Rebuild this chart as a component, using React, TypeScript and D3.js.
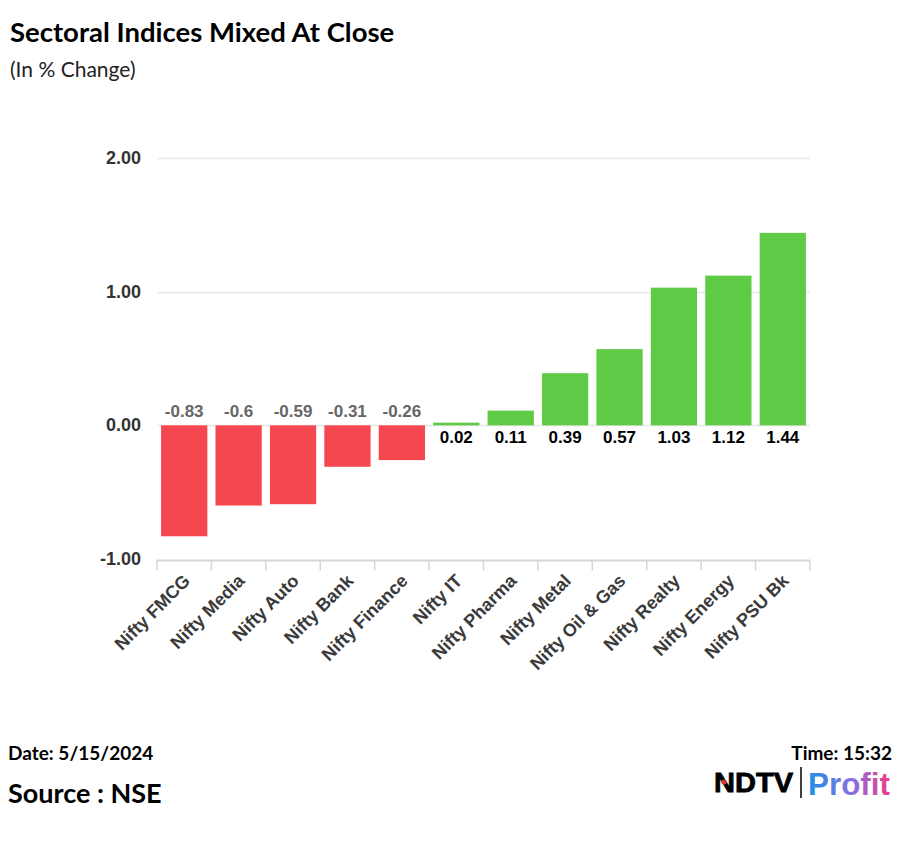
import React, { useEffect, useRef } from 'react';
import * as d3 from 'd3';

const categories = [
  'Nifty FMCG', 'Nifty Media', 'Nifty Auto', 'Nifty Bank', 'Nifty Finance', 'Nifty IT',
  'Nifty Pharma', 'Nifty Metal', 'Nifty Oil & Gas', 'Nifty Realty', 'Nifty Energy', 'Nifty PSU Bk',
];
const changes = [-0.83, -0.6, -0.59, -0.31, -0.26, 0.02, 0.11, 0.39, 0.57, 1.03, 1.12, 1.44];
const yTicks = [-1, 0, 1, 2];

const W = 900;
const H = 843;
const chartFont = '"Liberation Sans", Arial, sans-serif';
const textFont = 'Lato, "Open Sans", sans-serif';

const App: React.FC = () => {
  const ref = useRef<SVGSVGElement | null>(null);

  useEffect(() => {
    document.body.style.margin = '0';
    if (!ref.current) return;
    const svg = d3.select(ref.current);
    svg.selectAll('*').remove();

    const left = 157;
    const right = 810;
    const top = 158;
    const bottom = 559;

    const x = d3.scaleBand<string>().domain(categories).range([left, right]).paddingInner(0.15).paddingOuter(0.075);
    const y = d3.scaleLinear().domain([-1, 2]).range([bottom, top]);

    svg.append('rect').attr('width', W).attr('height', H).attr('fill', '#fff');

    // titles
    svg.append('text').attr('x', 10).attr('y', 42).attr('font-family', textFont)
      .attr('font-weight', 700).attr('font-size', 27.5).attr('fill', '#000')
      .text('Sectoral Indices Mixed At Close');
    svg.append('text').attr('x', 10).attr('y', 77).attr('font-family', textFont)
      .attr('font-size', 21).attr('fill', '#222').text('(In % Change)');

    // grid
    svg.append('g').selectAll('line').data(yTicks.filter(t => t !== -1)).join('line')
      .attr('x1', left).attr('x2', right)
      .attr('y1', d => Math.round(y(d)) + 0.5).attr('y2', d => Math.round(y(d)) + 0.5)
      .attr('stroke', '#e6e6e6').attr('stroke-width', 1.5);

    // y labels
    svg.append('g').selectAll('text').data(yTicks).join('text')
      .attr('x', 141).attr('y', d => y(d) + 6).attr('text-anchor', 'end')
      .attr('font-family', chartFont).attr('font-weight', 700).attr('font-size', 18)
      .attr('fill', '#333').text(d => d.toFixed(2));

    // x axis line + ticks
    const axisY = bottom + 1.5;
    svg.append('line').attr('x1', left).attr('x2', right).attr('y1', axisY).attr('y2', axisY)
      .attr('stroke', '#d6d6d6').attr('stroke-width', 2);
    const step = x.step();
    const tickXs = d3.range(categories.length + 1).map(i => left + i * step);
    svg.append('g').selectAll('line').data(tickXs).join('line')
      .attr('x1', d => d).attr('x2', d => d).attr('y1', axisY).attr('y2', axisY + 10)
      .attr('stroke', '#d6d6d6').attr('stroke-width', 1.5);

    // bars
    svg.append('g').selectAll('rect').data(changes).join('rect')
      .attr('x', (_, i) => x(categories[i])!)
      .attr('width', x.bandwidth())
      .attr('y', d => y(Math.max(0, d)))
      .attr('height', d => Math.abs(y(d) - y(0)))
      .attr('fill', d => (d < 0 ? '#f5474f' : '#5fca45'));

    // value labels
    svg.append('g').selectAll('text').data(changes).join('text')
      .attr('x', (_, i) => x(categories[i])! + x.bandwidth() / 2)
      .attr('y', d => (d < 0 ? y(0) - 8 : y(0) + 18))
      .attr('text-anchor', 'middle').attr('font-family', chartFont).attr('font-weight', 700)
      .attr('font-size', 17).attr('fill', d => (d < 0 ? '#666' : '#000'))
      .text(d => String(d));

    // category labels
    svg.append('g').selectAll('text').data(categories).join('text')
      .attr('transform', d => `translate(${x(d)! + x.bandwidth() / 2 + 7},${bottom + 23}) rotate(-45)`)
      .attr('text-anchor', 'end').attr('font-family', chartFont).attr('font-weight', 700)
      .attr('font-size', 18).attr('fill', '#3a3a3a').text(d => d);

    // footer
    svg.append('text').attr('x', 8).attr('y', 760).attr('font-family', textFont)
      .attr('font-weight', 700).attr('font-size', 19).text('Date: 5/15/2024');
    svg.append('text').attr('x', 892).attr('y', 760).attr('text-anchor', 'end').attr('font-family', textFont)
      .attr('font-weight', 700).attr('font-size', 19).text('Time: 15:32');
    svg.append('text').attr('x', 8).attr('y', 803).attr('font-family', textFont)
      .attr('font-weight', 700).attr('font-size', 27).text('Source : NSE');

    // logo
    const defs = svg.append('defs');
    const grad = defs.append('linearGradient').attr('id', 'profitGrad').attr('x1', '0%').attr('x2', '100%');
    grad.append('stop').attr('offset', '0%').attr('stop-color', '#1e8fe6');
    grad.append('stop').attr('offset', '55%').attr('stop-color', '#8a6fe0');
    grad.append('stop').attr('offset', '100%').attr('stop-color', '#ee3e86');
    svg.append('text').attr('x', 714).attr('y', 792).attr('font-family', chartFont)
      .attr('font-weight', 900).attr('font-size', 27).attr('fill', '#000')
      .attr('stroke', '#000').attr('stroke-width', 0.8)
      .attr('textLength', 79).attr('lengthAdjust', 'spacingAndGlyphs').text('NDTV');
    svg.append('circle').attr('cx', 724).attr('cy', 782).attr('r', 2.6).attr('fill', '#e0302c');
    svg.append('line').attr('x1', 801).attr('x2', 801).attr('y1', 767).attr('y2', 798)
      .attr('stroke', '#000').attr('stroke-width', 1.5);
    svg.append('text').attr('x', 808).attr('y', 795).attr('font-family', chartFont)
      .attr('font-weight', 700).attr('font-size', 31).attr('fill', 'url(#profitGrad)')
      .attr('textLength', 82).attr('lengthAdjust', 'spacingAndGlyphs').text('Profit');
  }, []);

  return <svg ref={ref} width={W} height={H} style={{ display: 'block' }} />;
};

export default App;
